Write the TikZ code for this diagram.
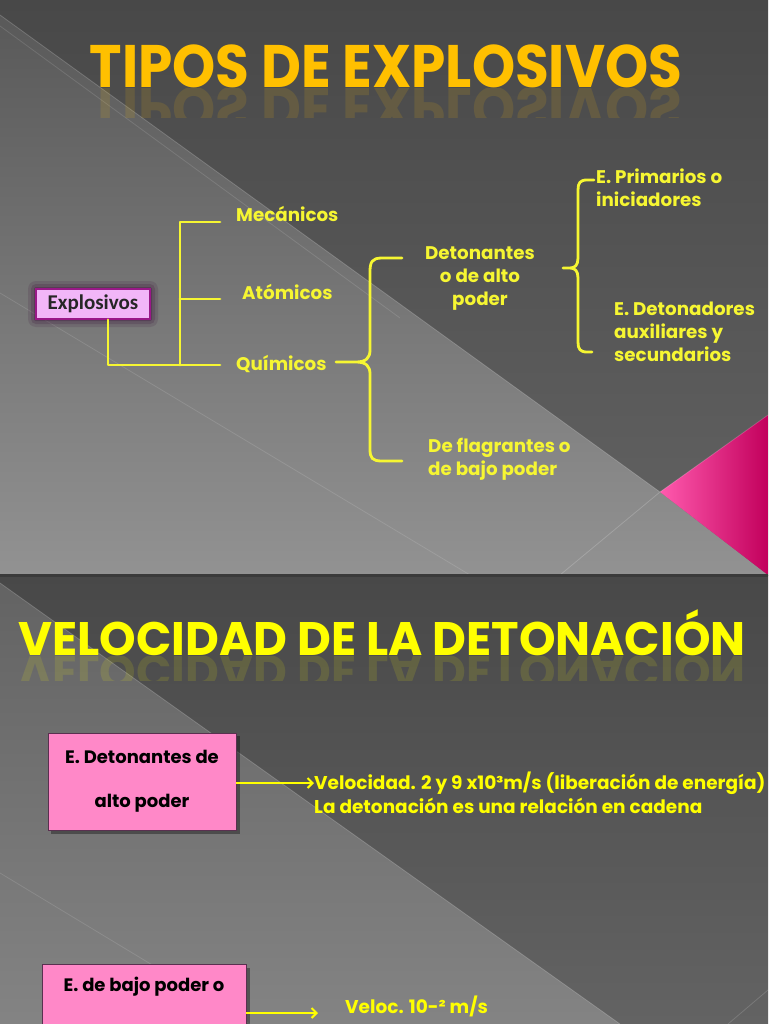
\documentclass[tikz,border=0pt]{standalone}
\usepackage{fontspec}
\setmainfont{Poppins}
\newfontfamily\boxfont{Carlito}
\usetikzlibrary{arrows.meta,positioning}

\definecolor{slatetop}{HTML}{484848}
\definecolor{slatemid}{HTML}{636363}
\definecolor{slatelight}{HTML}{929292}
\definecolor{titlegold}{HTML}{FFC000}
\definecolor{titleyel}{HTML}{FFFF00}
\definecolor{lineyel}{HTML}{F6F632}
\definecolor{lilac}{HTML}{F2B6F8}
\definecolor{plum}{HTML}{9A1888}
\definecolor{plumglow}{HTML}{3A0E38}
\definecolor{candy}{HTML}{FF88C8}
\definecolor{candyedge}{HTML}{5A3050}
\definecolor{pinklight}{HTML}{FF5AAE}
\definecolor{pinkhot}{HTML}{FF0A84}
\definecolor{pinkdeep}{HTML}{C2005C}

\tikzset{
  treeline/.style={lineyel, line width=2.8pt, line cap=round, line join=round},
  pointer/.style={titleyel, line width=2pt, -{Straight Barb[length=5pt,width=10pt]}},
  branch/.style={text=lineyel, inner sep=0pt, font=\bfseries\fontsize{18.3}{23}\selectfont},
  fact/.style={text=titleyel, inner sep=0pt, anchor=west, font=\bfseries\fontsize{18.5}{23}\selectfont},
  rootbox/.style={fill=lilac, draw=plum, line width=1.6pt, minimum width=114pt, minimum height=30pt,
    inner sep=0pt, text=black!85, font=\boxfont\bfseries\fontsize{21}{22}\selectfont},
  pinkbox/.style={fill=candy, draw=candyedge, line width=0.8pt, minimum width=188pt, minimum height=97pt,
    inner sep=0pt, align=center, font=\bfseries\fontsize{18}{44}\selectfont},
  headline/.style={inner sep=0pt, anchor=base, font=\bfseries\fontsize{60}{60}\selectfont},
}

\begin{document}
\begin{tikzpicture}[x=1pt,y=-1pt]
  \useasboundingbox (0,0) rectangle (768,1024);
  \clip (0,0) rectangle (768,1024);

  % first slide
  \shade[top color=slatetop, bottom color=slatemid] (0,0) rectangle (768,575);
  \shade[top color=slatemid!90!black, bottom color=slatelight] (0,15) -- (660,492) -- (768,575) -- (0,575) -- cycle;
  \draw[white, opacity=0.18, line width=0.8pt] (0,15) -- (660,492) -- (560,575);
  \draw[white, opacity=0.12, line width=0.8pt] (0,26) -- (400,318);
  \draw[white, opacity=0.12, line width=0.8pt] (0,293) -- (470,575);
  \shade[left color=pinklight, middle color=pinkhot, right color=pinkdeep]
    (660,492) -- (768,415) -- (768,575) -- cycle;
  \draw[white, opacity=0.2, line width=0.8pt] (660,492) -- (768,415);

  % second slide
  \shade[top color=slatetop, bottom color=slatemid] (0,575) rectangle (768,1024);
  \shade[top color=slatemid, bottom color=slatelight!90!black] (0,583) -- (620,1024) -- (0,1024) -- cycle;
  \draw[white, opacity=0.18, line width=0.8pt] (0,583) -- (620,1024);
  \draw[white, opacity=0.12, line width=0.8pt] (0,873) -- (250,1024);
  \draw[white, opacity=0.15, line width=0.8pt] (768,990) -- (728,1024);
  \fill[slatetop!80!black] (0,574) rectangle (768,577);

  % titles with reflection
  \node[headline, text=titlegold] (title) at (386,88) {\scalebox{0.915}[1]{TIPOS DE EXPLOSIVOS}};
  \begin{scope}
    \clip (0,89) rectangle (768,118);
    \begin{scope}[shift={(386,88)}]
      \node[headline, text=titlegold, opacity=0.13, yscale=-1, transform shape] (titleshadow) at (0,0)
        {\scalebox{0.915}[1]{TIPOS DE EXPLOSIVOS}};
    \end{scope}
  \end{scope}

  \node[headline, text=titleyel, font=\bfseries\fontsize{47}{47}\selectfont] (speed) at (382,655)
    {\scalebox{0.99}[1]{VELOCIDAD DE LA DETONACIÓN}};
  \begin{scope}
    \clip (0,656) rectangle (768,680);
    \begin{scope}[shift={(382,655)}]
      \node[headline, text=titleyel, opacity=0.12, yscale=-1, transform shape,
        font=\bfseries\fontsize{47}{47}\selectfont] (speedshadow) at (0,0)
        {\scalebox{0.99}[1]{VELOCIDAD DE LA DETONACIÓN}};
    \end{scope}
  \end{scope}

  % tree of explosives
  \foreach \g/\o in {8/0.15, 5/0.2, 2/0.3}
    \fill[plumglow, opacity=\o, rounded corners=\g] (36-\g,289-\g) rectangle (150+\g,319+\g);
  \node[rootbox] (expl) at (93,304) {Explosivos};

  \node[branch, anchor=west] (mec) at (236,214) {Mecánicos};
  \node[branch, anchor=west] (ato) at (242,292) {Atómicos};
  \node[branch, anchor=west] (quim) at (236,364) {Químicos};

  \coordinate (trunk) at (180,0);
  \coordinate (jm) at (220,222);
  \coordinate (ja) at (220,299);
  \coordinate (jq) at (220,365);
  \draw[treeline] ([xshift=15]expl.south) |- (jq);
  \draw[treeline] (jm) -| (jq -| trunk);
  \draw[treeline] (ja) -- (ja -| trunk);

  \node[branch, align=center] (deton) at (480,279) {Detonantes\\o de alto\\poder};
  \node[branch, align=left, anchor=west] (flag) at (428,459) {De flagrantes o\\de bajo poder};
  \node[branch, align=left, anchor=west] (prim) at (596,188) {E. Primarios o\\iniciadores};
  \node[branch, align=left, anchor=west] (aux) at (614,332) {E. Detonadores\\auxiliares y\\secundarios};

  % braces
  \draw[treeline] (402,258) -- (382,258) .. controls (372,258) and (370,262) .. (370,272)
    -- (370,350) .. controls (370,358) and (366,362) .. (356,362) -- (336,362)
    -- (356,362) .. controls (366,362) and (370,366) .. (370,374)
    -- (370,449) .. controls (370,458) and (372,461) .. (382,461) -- (402,461);
  \draw[treeline] (594,180) -- (587,180) .. controls (580,180) and (578,183) .. (578,190)
    -- (578,258) .. controls (578,265) and (575,268) .. (570,268) -- (563,268)
    -- (570,268) .. controls (575,268) and (578,271) .. (578,278)
    -- (578,342) .. controls (578,349) and (580,352) .. (587,352) -- (592,352);

  % speed boxes
  \fill[black, opacity=0.35] (51,736) rectangle (240,834);
  \node[pinkbox] (hibox) at (142,781.5) {E. Detonantes de\\alto poder};
  \fill[black, opacity=0.35] (45,968) rectangle (250,1070);
  \node[pinkbox, minimum width=204pt] (lowbox) at (144,1013) {E. de bajo poder o\\\strut};

  \node[fact] (velo) at (314,783) {Velocidad. 2 y 9 x10³m/s (liberación de energía)};
  \node[fact] (chain) at (314,806) {La detonación es una relación en cadena};
  \node[fact] (slow) at (345,1006) {Veloc. 10-² m/s};
  \coordinate (tip) at (318,1013);

  \draw[pointer] (hibox.east |- velo.west) -- (velo.west);
  \draw[pointer] (lowbox.east) -- (tip);
\end{tikzpicture}
\end{document}
